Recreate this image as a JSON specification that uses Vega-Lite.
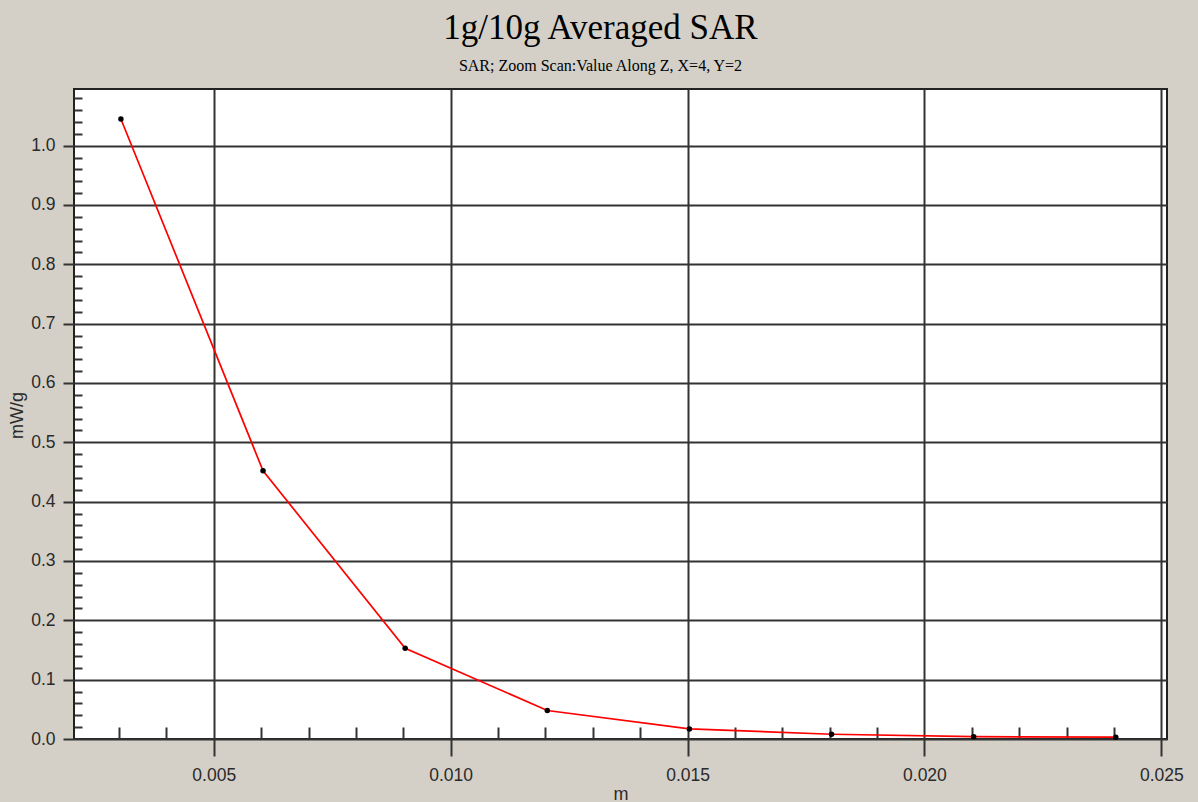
{
  "$schema": "https://vega.github.io/schema/vega-lite/v6.json",
  "width": 1093,
  "height": 650,
  "autosize": {"type": "none"},
  "padding": {"left": 74, "top": 89, "right": 31, "bottom": 63},
  "background": "#D4D0C8",
  "config": {"view": {"fill": "white", "stroke": "#222222", "strokeWidth": 2}},
  "title": {
    "text": "1g/10g Averaged SAR",
    "subtitle": "SAR; Zoom Scan:Value Along Z, X=4, Y=2",
    "font": "Liberation Serif",
    "fontSize": 35,
    "fontWeight": "normal",
    "color": "#000000",
    "subtitleFont": "Liberation Serif",
    "subtitleFontSize": 16,
    "subtitleColor": "#000000",
    "subtitlePadding": 12,
    "anchor": "middle",
    "dx": -20,
    "offset": 15
  },
  "data": {
    "values": [
      {"z": 0.00304, "sar": 1.045},
      {"z": 0.00604, "sar": 0.452},
      {"z": 0.00904, "sar": 0.153},
      {"z": 0.01204, "sar": 0.048},
      {"z": 0.01504, "sar": 0.017},
      {"z": 0.01804, "sar": 0.008},
      {"z": 0.02104, "sar": 0.004},
      {"z": 0.02404, "sar": 0.003}
    ]
  },
  "encoding": {
    "x": {
      "field": "z",
      "type": "quantitative",
      "scale": {"domain": [0.00205, 0.02512], "nice": false, "zero": false},
      "axis": {
        "values": [0.003, 0.004, 0.005, 0.006, 0.007, 0.008, 0.009, 0.01, 0.011, 0.012, 0.013, 0.014, 0.015, 0.016, 0.017, 0.018, 0.019, 0.02, 0.021, 0.022, 0.023, 0.024, 0.025],
        "labelExpr": "abs(datum.value*200 - round(datum.value*200)) < 0.001 ? format(datum.value, '.3f') : ''",
        "tickSize": {"condition": {"test": "abs(datum.value*200 - round(datum.value*200)) < 0.001", "value": 17}, "value": -12},
        "tickWidth": 2,
        "tickColor": "#333333",
        "grid": true,
        "gridColor": "#333333",
        "gridWidth": 2,
        "gridOpacity": {"condition": {"test": "abs(datum.value*200 - round(datum.value*200)) < 0.001", "value": 1}, "value": 0},
        "domain": false,
        "labelFont": "Liberation Sans",
        "labelFontSize": 17.5,
        "labelColor": "#2a2a2a",
        "labelPadding": 10,
        "labelFlush": false,
        "labelOverlap": false,
        "title": "m",
        "titleFont": "Liberation Sans",
        "titleFontSize": 18,
        "titleFontWeight": "normal",
        "titleColor": "#2a2a2a",
        "titleY": 60,
        "titleBaseline": "alphabetic"
      }
    },
    "y": {
      "field": "sar",
      "type": "quantitative",
      "scale": {"domain": [0, 1.0955], "nice": false},
      "axis": {
        "values": [0, 0.02, 0.04, 0.06, 0.08, 0.1, 0.12, 0.14, 0.16, 0.18, 0.2, 0.22, 0.24, 0.26, 0.28, 0.3, 0.32, 0.34, 0.36, 0.38, 0.4, 0.42, 0.44, 0.46, 0.48, 0.5, 0.52, 0.54, 0.56, 0.58, 0.6, 0.62, 0.64, 0.66, 0.68, 0.7, 0.72, 0.74, 0.76, 0.78, 0.8, 0.82, 0.84, 0.86, 0.88, 0.9, 0.92, 0.94, 0.96, 0.98, 1.0, 1.02, 1.04, 1.06, 1.08],
        "labelExpr": "abs(datum.value*10 - round(datum.value*10)) < 0.001 ? format(datum.value, '.1f') : ''",
        "tickSize": {"condition": {"test": "abs(datum.value*10 - round(datum.value*10)) < 0.001", "value": 11}, "value": -8},
        "tickWidth": 2,
        "tickColor": "#333333",
        "grid": true,
        "gridColor": "#333333",
        "gridWidth": 2,
        "gridOpacity": {"condition": {"test": "abs(datum.value*10 - round(datum.value*10)) < 0.001", "value": 1}, "value": 0},
        "domain": false,
        "labelFont": "Liberation Sans",
        "labelFontSize": 17.5,
        "labelColor": "#2a2a2a",
        "labelPadding": 8,
        "labelFlush": false,
        "labelOverlap": false,
        "title": "mW/g",
        "titleFont": "Liberation Sans",
        "titleFontSize": 18,
        "titleFontWeight": "normal",
        "titleColor": "#2a2a2a",
        "titleX": -57,
        "titleY": 326,
        "titleAngle": -90,
        "titleAlign": "center",
        "titleBaseline": "middle"
      }
    }
  },
  "layer": [
    {"mark": {"type": "line", "color": "#FF0000", "strokeWidth": 1.7}},
    {"mark": {"type": "point", "filled": true, "color": "#000000", "size": 30, "opacity": 1}}
  ]
}
